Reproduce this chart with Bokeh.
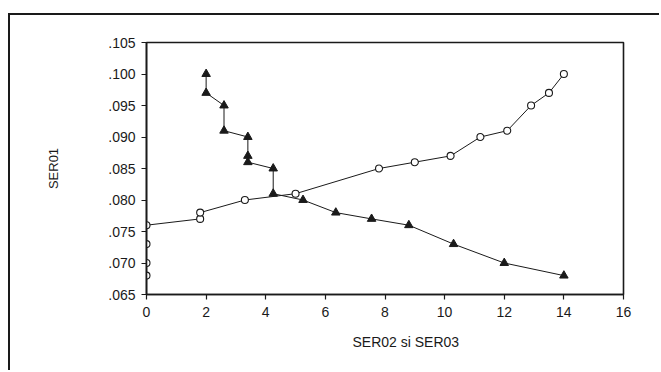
from bokeh.plotting import figure
from bokeh.models import FixedTicker, CustomJSTickFormatter, Title, Range1d
from bokeh.embed import file_html
from bokeh.resources import INLINE

# SER01 (vertical axis) plotted against SER02 (circles) and SER03 (triangles)
ser01 = [0.068, 0.070, 0.073, 0.076, 0.077, 0.078, 0.080, 0.081,
         0.085, 0.086, 0.087, 0.090, 0.091, 0.095, 0.097, 0.100]
ser02 = [0.0, 0.0, 0.0, 0.0, 1.8, 1.8, 3.3, 5.0,
         7.8, 9.0, 10.2, 11.2, 12.1, 12.9, 13.5, 14.0]

ser01_desc = [0.100, 0.097, 0.095, 0.091, 0.090, 0.087, 0.086, 0.085,
              0.081, 0.080, 0.078, 0.077, 0.076, 0.073, 0.070, 0.068]
ser03 = [2.0, 2.0, 2.6, 2.6, 3.4, 3.4, 3.4, 4.25,
         4.25, 5.25, 6.35, 7.55, 8.8, 10.3, 12.0, 14.0]

x_ticks = [0, 2, 4, 6, 8, 10, 12, 14, 16]
y_ticks = [0.065, 0.070, 0.075, 0.080, 0.085, 0.090, 0.095, 0.100, 0.105]

FONT = "Liberation Sans"
INK = "#1a1a1a"

p = figure(width=651, height=357, output_backend="svg", toolbar_location=None,
           x_range=Range1d(0, 16), y_range=Range1d(0.065, 0.105),
           min_border_left=136, min_border_right=38,
           min_border_top=27, min_border_bottom=78,
           styles={"border-left": f"2px solid {INK}", "border-top": f"2px solid {INK}",
                   "margin-top": "13px", "margin-left": "8px"})

p.grid.visible = False
p.outline_line_color = INK
p.outline_line_width = 1.6
p.background_fill_color = "white"
p.border_fill_color = "white"

for ax in (p.xaxis[0], p.yaxis[0]):
    ax.axis_line_color = INK
    ax.axis_line_width = 1.6
    ax.major_tick_line_color = INK
    ax.major_tick_line_width = 1.2
    ax.major_tick_out = 5
    ax.major_tick_in = 0
    ax.minor_tick_line_color = None
    ax.major_label_text_font = FONT
    ax.major_label_text_font_size = "14px"
    ax.major_label_text_color = INK

p.xaxis.ticker = FixedTicker(ticks=x_ticks)
p.yaxis.ticker = FixedTicker(ticks=y_ticks)
p.xaxis.major_label_standoff = 7
p.yaxis.major_label_standoff = 6
p.yaxis.formatter = CustomJSTickFormatter(code="return tick.toFixed(3).replace(/^0/, '');")

p.yaxis.axis_label = "SER01"
p.yaxis.axis_label_text_font = FONT
p.yaxis.axis_label_text_font_style = "normal"
p.yaxis.axis_label_text_font_size = "13px"
p.yaxis.axis_label_text_color = INK
p.yaxis.axis_label_standoff = 44

# x-axis title, placed right of centre as in the reference
xtitle = Title(text="SER02 si SER03", align="left", offset=206, standoff=24,
               text_font=FONT, text_font_size="14px", text_font_style="normal",
               text_color=INK)
p.add_layout(xtitle, "below")

# SER02 series: open circles
p.line(ser02, ser01, line_color=INK, line_width=1)
p.scatter(ser02, ser01, marker="circle", size=7, fill_color="white",
          line_color=INK, line_width=1.1)

# SER03 series: filled triangles
p.line(ser03, ser01_desc, line_color=INK, line_width=1)
p.scatter(ser03, ser01_desc, marker="triangle", size=8.5, fill_color=INK,
          line_color=INK, line_width=1)

open("out.html", "w").write(file_html(p, INLINE))
